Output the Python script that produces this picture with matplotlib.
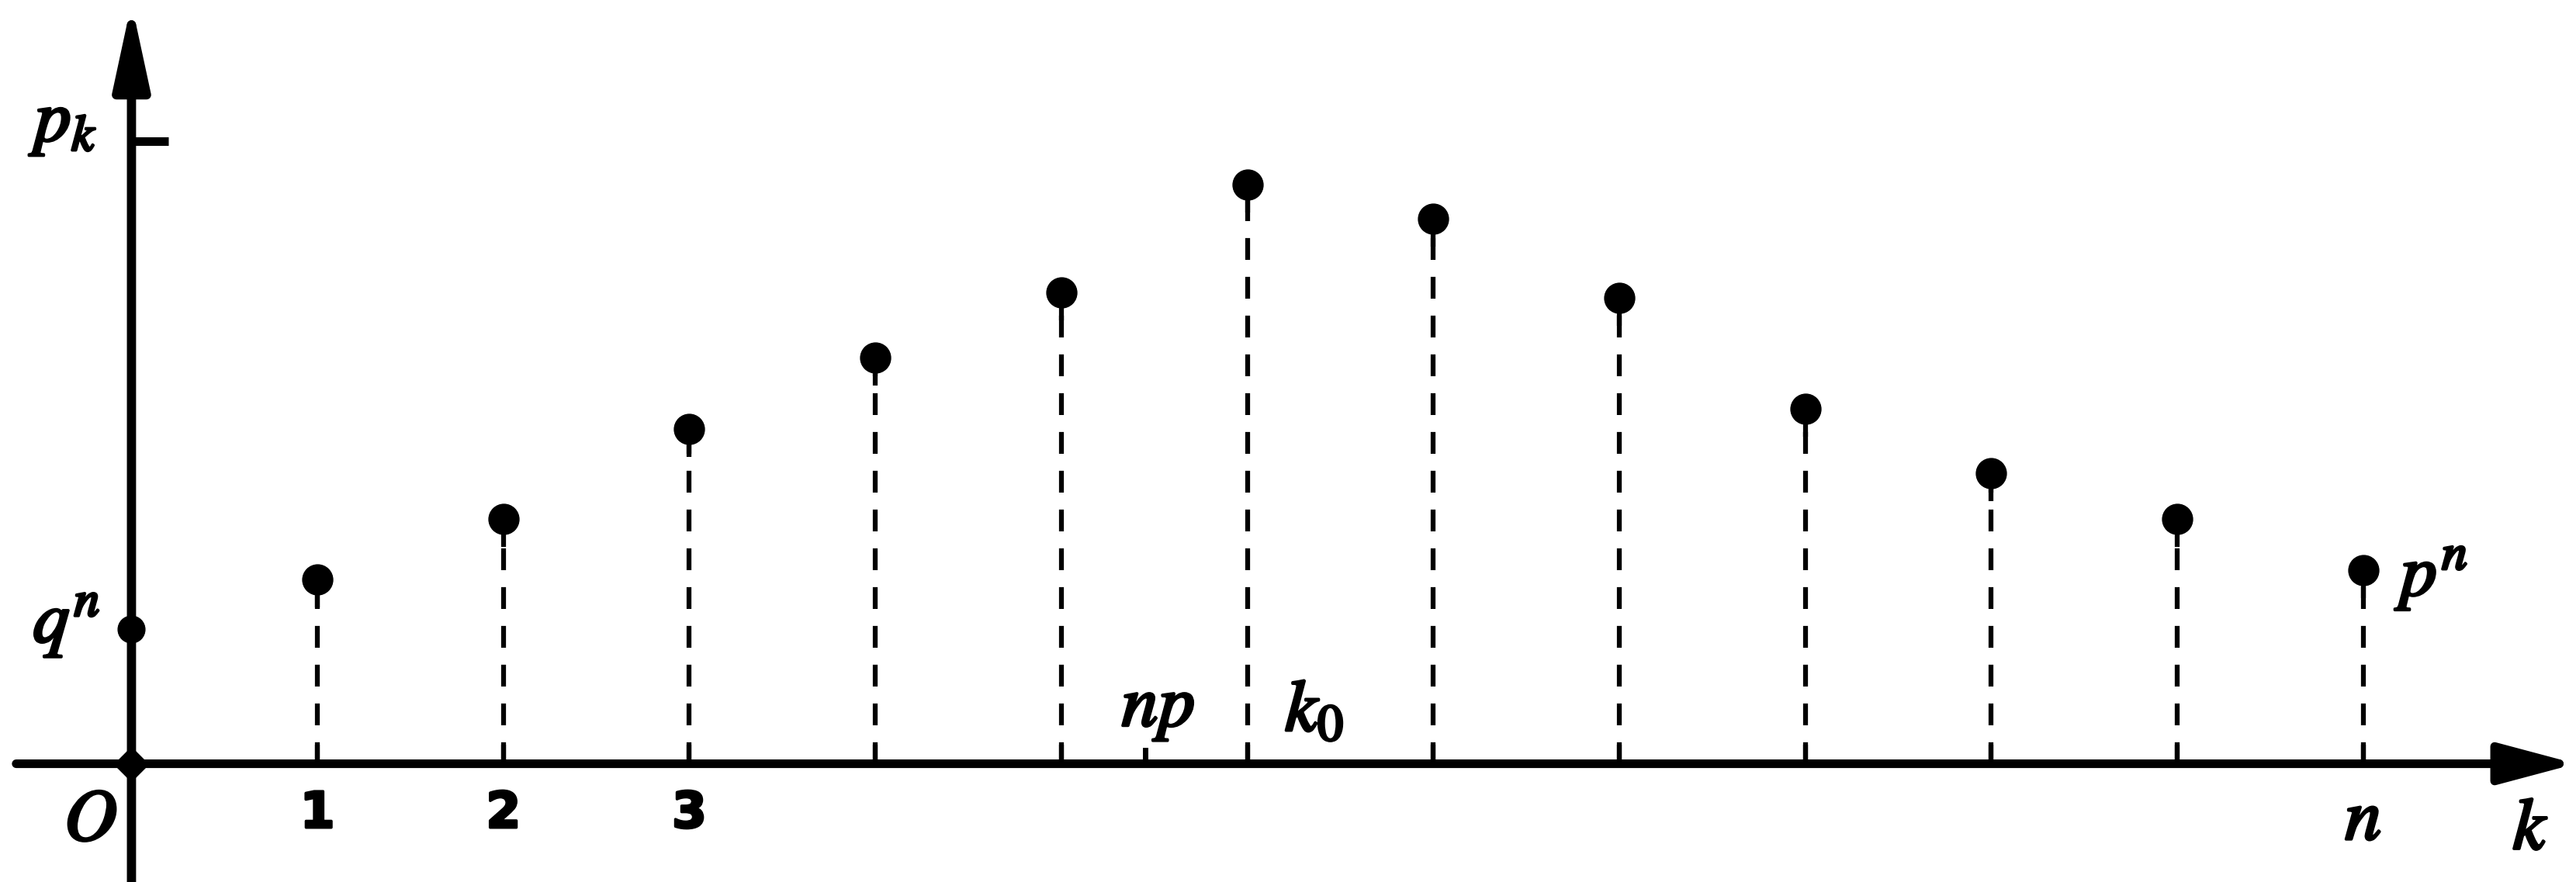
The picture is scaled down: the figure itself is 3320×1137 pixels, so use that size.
import matplotlib.pyplot as plt
import matplotlib.patheffects as pe
import numpy as np

# binomial probabilities p_k sketch (pk level = 1)
k_vals = np.arange(0, 13)
p_vals = [0.216, 0.296, 0.393, 0.538, 0.652, 0.757, 0.931, 0.876, 0.749, 0.570, 0.467, 0.393, 0.311]
pk_level = 1.0
np_pos = 5.45
k0_pos = 6
tick_labels = ['1', '2', '3']

plt.rcParams['mathtext.fontset'] = 'stix'

fig = plt.figure(figsize=(33.2, 11.37), dpi=100)
ax = fig.add_axes([0, 0, 1, 1])
ax.set_xlim(-0.707, 13.145)
ax.set_ylim(-0.19, 1.227)
ax.axis('off')

# axes with arrows
ax.annotate('', xy=(13.145, 0), xytext=(-0.62, 0),
            arrowprops=dict(arrowstyle='-|>,head_length=0.6,head_width=0.16',
                            lw=8, color='black', mutation_scale=100,
                            shrinkA=0, shrinkB=0))
ax.annotate('', xy=(0, 1.222), xytext=(0, -0.19),
            arrowprops=dict(arrowstyle='-|>,head_length=0.65,head_width=0.14',
                            lw=8.5, color='black', mutation_scale=100,
                            shrinkA=0, shrinkB=0))

# p_k tick on y axis
ax.plot([0, 0.2], [pk_level, pk_level], color='black', lw=8, solid_capstyle='butt')

# dashed stems
for k, p in zip(k_vals[1:], p_vals[1:]):
    ax.plot([k, k], [0, p], color='black', lw=4.5, dashes=(4.5, 3.5))
    ax.plot([k, k], [p - 0.045, p], color='black', lw=4.5, solid_capstyle='butt')
    ax.plot([k, k], [0, 0.03], color='black', lw=4.5, solid_capstyle='butt')

# dots
ax.plot(k_vals[1:], p_vals[1:], 'o', color='black', markersize=28)
ax.plot([0], [p_vals[0]], 'o', color='black', markersize=25)
ax.plot([0], [0], 'D', color='black', markersize=22)

# small tick at np
ax.plot([np_pos, np_pos], [0, 0.022], color='black', lw=5)

bold = [pe.withStroke(linewidth=2.5, foreground='black')]
tfont = dict(fontsize=68, color='black', ha='center', va='center', path_effects=bold)
ax.text(-0.22, -0.09, r'$O$', **tfont)
for k, lab in zip(k_vals[1:4], tick_labels):
    ax.text(k, -0.08, lab, fontsize=46, fontweight='bold', ha='center', va='center',
            family=['Liberation Sans Narrow', 'DejaVu Sans'], path_effects=bold)
ax.text(12, -0.09, r'$n$', **tfont)
ax.text(12.9, -0.105, r'$k$', **tfont)
ax.text(5.52, 0.09, r'$np$', **tfont)
ax.text(6.36, 0.085, r'$k_0$', **tfont)
ax.text(12.2, 0.3, r'$p^n$', fontsize=68, ha='left', va='center', path_effects=bold)
ax.text(-0.35, 0.225, r'$q^n$', **tfont)
ax.text(-0.34, 1.03, r'$p_k$', **tfont)

fig.savefig('out.png', dpi=100, facecolor='white')
